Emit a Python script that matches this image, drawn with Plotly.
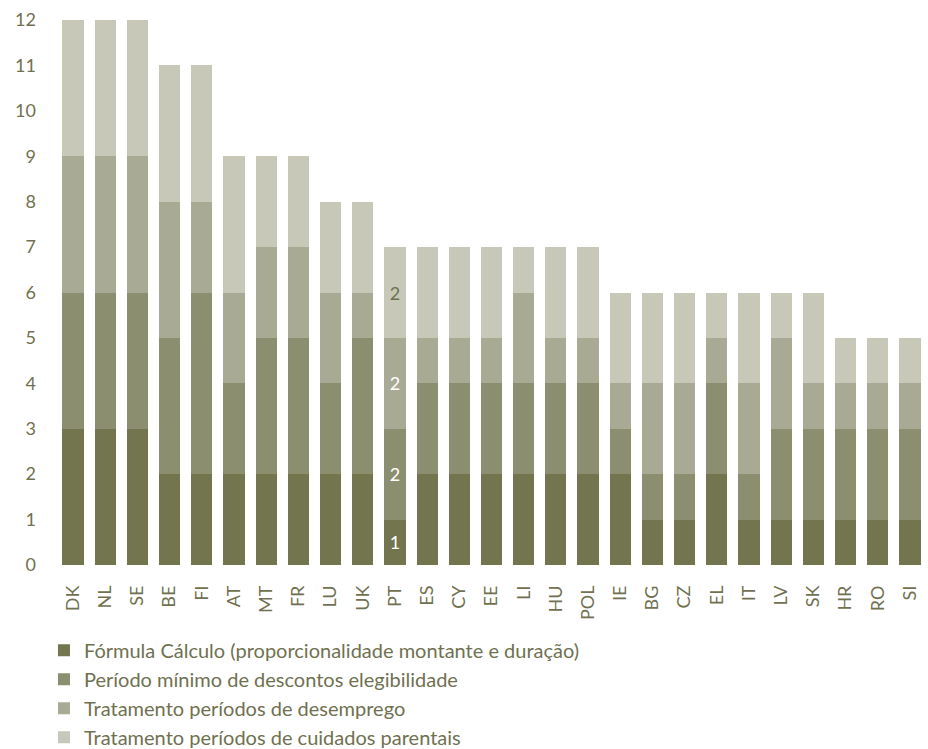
import plotly.graph_objects as go

countries = ["DK","NL","SE","BE","FI","AT","MT","FR","LU","UK","PT","ES","CY","EE","LI","HU","POL",
             "IE","BG","CZ","EL","IT","LV","SK","HR","RO","SI"]
formula = [3,3,3,2,2,2,2,2,2,2,1,2,2,2,2,2,2,2,1,1,2,1,1,1,1,1,1]
periodo_minimo = [3,3,3,3,4,2,3,3,2,3,2,2,2,2,2,2,2,1,1,1,2,1,2,2,2,2,2]
desemprego = [3,3,3,3,2,2,2,2,2,1,2,1,1,1,2,1,1,1,2,2,1,2,2,1,1,1,1]
parentais = [3,3,3,3,3,3,2,2,2,2,2,2,2,2,1,2,2,2,2,2,1,2,1,2,1,1,1]

series_names = ["Fórmula Cálculo (proporcionalidade montante e duração)",
                "Período mínimo de descontos elegibilidade",
                "Tratamento períodos de desemprego",
                "Tratamento períodos de cuidados parentais"]
series_values = [formula, periodo_minimo, desemprego, parentais]
colors = ["#72754d", "#8c8f6f", "#a8aa93", "#c7c8b8"]
label_colors = ["#ffffff", "#ffffff", "#ffffff", "#6f7150"]
labelled_country = "PT"

text_color = "#6f7150"
font_family = "Lato, 'Open Sans', sans-serif"

fig = go.Figure()
for i, (name, vals) in enumerate(zip(series_names, series_values)):
    txt = [str(v) if c == labelled_country else "" for c, v in zip(countries, vals)]
    fig.add_trace(go.Bar(
        x=countries, y=vals, name=name,
        marker=dict(color=colors[i], line=dict(width=0)),
        text=txt, textposition="inside", insidetextanchor="middle",
        textfont=dict(color=label_colors[i], size=18, family=font_family),
        legendgroup=f"g{i}",
        hoverinfo="x+y+name",
    ))

fig.update_layout(
    barmode="stack",
    bargap=0.34,
    width=928, height=749,
    margin=dict(l=57, r=2, t=20, b=184, autoexpand=False),
    plot_bgcolor="white", paper_bgcolor="white",
    font=dict(family=font_family, size=19, color=text_color),
    uniformtext=dict(mode=False),
    xaxis=dict(tickangle=-90, showline=False, ticks="", showgrid=False, automargin=False,
               tickfont=dict(size=18, color=text_color), ticklabelstandoff=16),
    yaxis=dict(range=[0, 12], dtick=1, showgrid=False, showline=False, ticks="",
               automargin=False, zeroline=False, tickfont=dict(size=18, color=text_color),
               ticklabelstandoff=20),
    legend=dict(orientation="v", x=-0.015, xanchor="left",
                yref="container", y=0.158, yanchor="top",
                traceorder="normal", tracegroupgap=5,
                font=dict(size=20, color=text_color),
                itemwidth=30),
    showlegend=True,
)

fig.write_html("out.html")
